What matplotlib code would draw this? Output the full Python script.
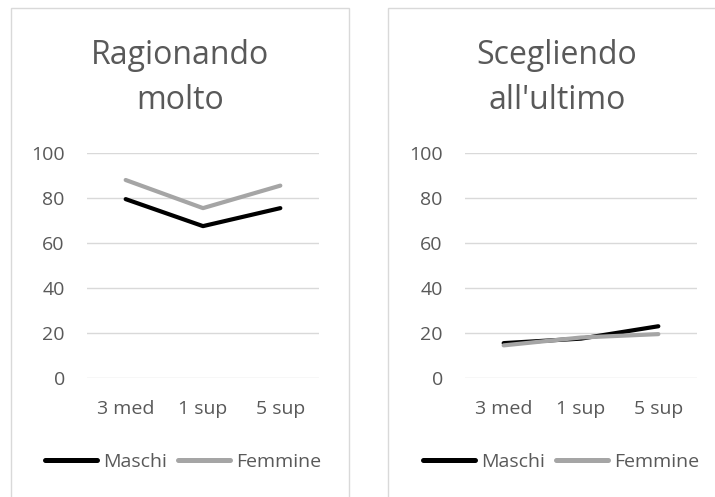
import matplotlib
matplotlib.use("Agg")
import matplotlib.pyplot as plt
from matplotlib.patches import Rectangle

categories = ["3 med", "1 sup", "5 sup"]
titles = ["Ragionando\nmolto", "Scegliendo\nall'ultimo"]
maschi_molto = [79.5, 67.5, 75.5]
femmine_molto = [88, 75.5, 85.5]
maschi_ultimo = [15.5, 17.5, 23]
femmine_ultimo = [14.5, 18, 19.5]

W, H = 715, 497
fig = plt.figure(figsize=(W / 100, H / 100), dpi=100)
plt.rcParams["font.family"] = ["Open Sans", "DejaVu Sans"]
txt = "#595959"

def fx(px):
    return px / W

def fy(py):
    return 1 - py / H

# panel borders
for x0, x1 in [(11, 349), (388, 740)]:
    fig.patches.append(Rectangle((fx(x0), fy(520)), fx(x1 - x0), (520 - 8) / H,
                                 transform=fig.transFigure, fill=False,
                                 edgecolor="#d9d9d9", lw=1))

panels = [
    (87, 180, 183, titles[0], maschi_molto, femmine_molto),
    (465, 557, 561, titles[1], maschi_ultimo, femmine_ultimo),
]
for left, cx, lx, title, m, f in panels:
    ax = fig.add_axes([fx(left), fy(378), fx(232), (378 - 153) / H])
    x = range(len(categories))
    ax.plot(x, m, color="black", lw=3.0, solid_capstyle="round", label="Maschi", zorder=3)
    ax.plot(x, f, color="#a5a5a5", lw=3.0, solid_capstyle="round", label="Femmine", zorder=3)
    ax.set_xlim(-0.5, 2.5)
    ax.set_ylim(0, 100)
    ax.set_yticks(range(0, 101, 20))
    ax.set_xticks(list(x))
    ax.set_xticklabels(categories)
    ax.grid(axis="y", color="#d9d9d9", lw=1)
    ax.set_axisbelow(True)
    for s in ax.spines.values():
        s.set_visible(False)
    ax.tick_params(axis="both", length=0, labelsize=14, colors=txt)
    ax.tick_params(axis="y", pad=16)
    ax.tick_params(axis="x", pad=16)
    fig.text(fx(cx), fy(78), title, ha="center", va="center", fontsize=23,
             color=txt, linespacing=1.5)
    leg = ax.legend(loc="center", ncol=2, frameon=False,
                    fontsize=14, labelcolor=txt, handlelength=2.7,
                    handletextpad=0.3, columnspacing=0.55)
    leg.set_bbox_to_anchor((fx(lx), fy(462)), transform=fig.transFigure)
    for ln in leg.get_lines():
        ln.set_linewidth(3.6)

fig.savefig("out.png", dpi=100)
